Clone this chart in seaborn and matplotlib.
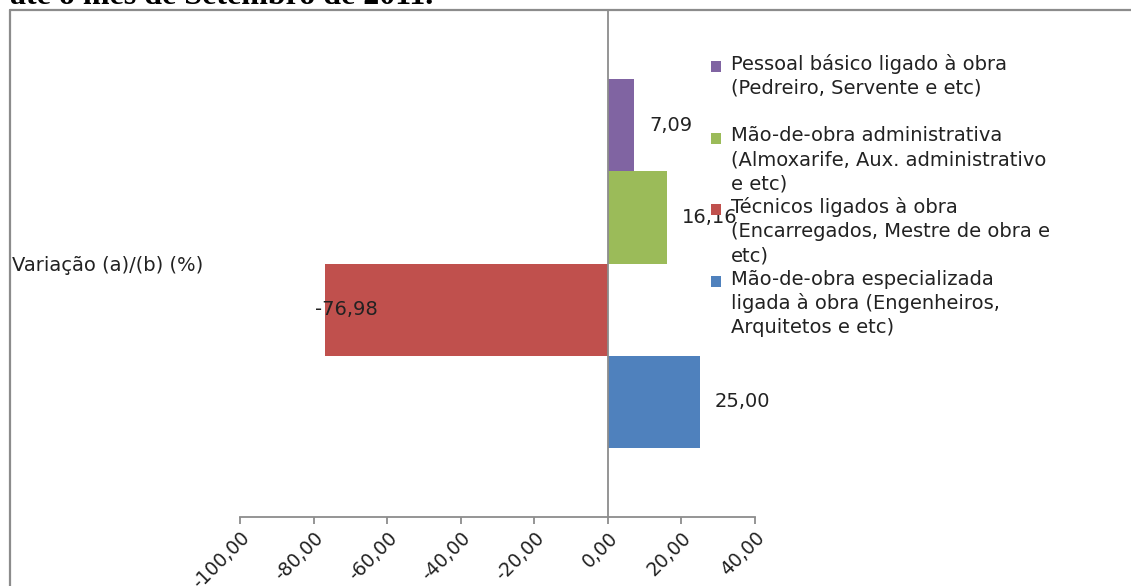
import matplotlib
matplotlib.use("Agg")
import matplotlib.pyplot as plt
import seaborn as sns
import pandas as pd
from matplotlib.lines import Line2D
from matplotlib.patches import Rectangle

# ---- data ----
category = ["Variação (a)/(b) (%)"]
series = [
    "Pessoal básico ligado à obra\n(Pedreiro, Servente e etc)",
    "Mão-de-obra administrativa\n(Almoxarife, Aux. administrativo\ne etc)",
    "Técnicos ligados à obra\n(Encarregados, Mestre de obra e\netc)",
    "Mão-de-obra especializada\nligada à obra (Engenheiros,\nArquitetos e etc)",
]
values = [7.09, 16.16, -76.98, 25.00]
colors = ["#8064A2", "#9BBB59", "#C0504D", "#4F81BD"]
xticks = [-100, -80, -60, -40, -20, 0, 20, 40]
title_text = "até o mês de Setembro de 2011."

df = pd.DataFrame({"cat": category * len(series), "serie": series, "valor": values})

sns.set_theme(style="white")
plt.rcParams["font.family"] = ["DejaVu Sans"]

W, H = 1131, 586
fig = plt.figure(figsize=(W / 100, H / 100), dpi=100)
ax = fig.add_axes([240 / W, 1 - 517 / H, (755 - 240) / W, (517 - 10) / H])

sns.barplot(data=df, x="valor", y="cat", hue="serie", hue_order=series,
            palette=colors, orient="h", width=0.726, ax=ax, legend=False,
            saturation=1, edgecolor="none")

ax.set_xlim(-100, 40)
ax.set_ylim(0.5, -0.5)
ax.set_xlabel("")
ax.set_ylabel("")

gray = "#8c8c8c"
for s in ["top", "right", "left"]:
    ax.spines[s].set_visible(False)
ax.spines["bottom"].set_color(gray)
ax.spines["bottom"].set_linewidth(1.3)
ax.axvline(0, color=gray, lw=1.3, zorder=3)

fs = 14
ax.set_xticks(xticks)
ax.set_xticklabels([f"{v:.2f}".replace(".", ",") for v in xticks],
                   rotation=45, ha="right", va="top", rotation_mode="anchor",
                   fontsize=13.5, color="#222222")
ax.tick_params(axis="x", bottom=True, length=5, width=1.3, color=gray, pad=3)

ax.set_yticks([0])
ax.set_yticklabels(category, fontsize=fs, color="#222222")
ax.tick_params(axis="y", left=False, length=0, pad=(240 - 12) * 0.72)
for lbl in ax.get_yticklabels():
    lbl.set_ha("left")

# data labels
for bar, v in zip(ax.patches, values):
    yc = bar.get_y() + bar.get_height() / 2
    txt = f"{v:.2f}".replace(".", ",")
    off = 15 if v >= 0 else -10
    ax.annotate(txt, xy=(v, yc), xytext=(off * 0.72, 0), textcoords="offset points",
                ha="left", va="center", fontsize=fs, color="#222222", zorder=5,
                annotation_clip=False)

# legend (manual, Excel-like layout)
leg_x_text = 731 / W
leg_x_box = 711 / W
slot = 71.7
pitch = 24.2
y0 = 64
for i, (lab, c) in enumerate(zip(series, colors)):
    ys = y0 + i * slot
    for j, line in enumerate(lab.split("\n")):
        fig.text(leg_x_text, 1 - (ys + j * pitch) / H, line, ha="left", va="center",
                 fontsize=fs, color="#222222")
    fig.add_artist(Rectangle((leg_x_box, 1 - (ys + 8) / H), 10 / W, 11 / H,
                             transform=fig.transFigure, facecolor=c, edgecolor="none"))

# chart-area border (partially visible)
bx, by = 10 / W, 1 - 10 / H
fig.add_artist(Line2D([bx, bx], [0, by], transform=fig.transFigure, color=gray, lw=1.6))
fig.add_artist(Line2D([bx, 1], [by, by], transform=fig.transFigure, color=gray, lw=1.6))

# cut-off title at the very top
fig.text(10 / W, 1 - 3.5 / H, title_text, ha="left", va="baseline",
         fontsize=23, fontweight="bold", family=["Liberation Serif", "DejaVu Serif"],
         color="black")

fig.savefig("out.png", dpi=100)
